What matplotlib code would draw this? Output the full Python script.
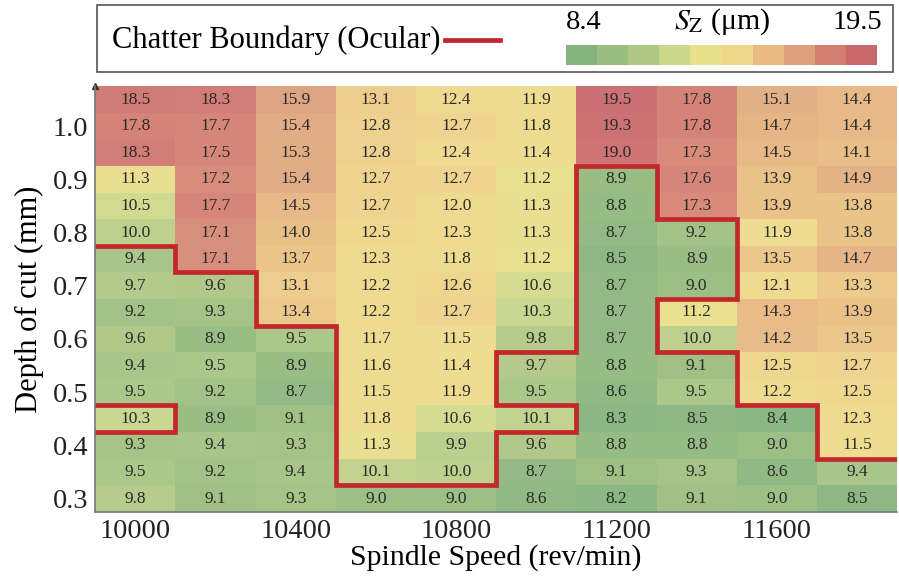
from matplotlib import pyplot as plt
from matplotlib.colors import LinearSegmentedColormap, ListedColormap, TwoSlopeNorm
from matplotlib.lines import Line2D
from matplotlib.patches import Rectangle
import numpy as np

plt.rcParams['font.family'] = ['Liberation Serif', 'DejaVu Serif']
plt.rcParams['mathtext.fontset'] = 'stix'

speeds = [10000, 10200, 10400, 10600, 10800, 11000, 11200, 11400, 11600, 11800]
depths = [0.30, 0.35, 0.40, 0.45, 0.50, 0.55, 0.60, 0.65, 0.70, 0.75, 0.80, 0.85, 0.90, 0.95, 1.00, 1.05]

# surface roughness Sz (um), rows from depth 1.05 down to 0.30
sz_rows = [
  [18.5, 18.3, 15.9, 13.1, 12.4, 11.9, 19.5, 17.8, 15.1, 14.4],
  [17.8, 17.7, 15.4, 12.8, 12.7, 11.8, 19.3, 17.8, 14.7, 14.4],
  [18.3, 17.5, 15.3, 12.8, 12.4, 11.4, 19.0, 17.3, 14.5, 14.1],
  [11.3, 17.2, 15.4, 12.7, 12.7, 11.2, 8.9, 17.6, 13.9, 14.9],
  [10.5, 17.7, 14.5, 12.7, 12.0, 11.3, 8.8, 17.3, 13.9, 13.8],
  [10.0, 17.1, 14.0, 12.5, 12.3, 11.3, 8.7, 9.2, 11.9, 13.8],
  [9.4, 17.1, 13.7, 12.3, 11.8, 11.2, 8.5, 8.9, 13.5, 14.7],
  [9.7, 9.6, 13.1, 12.2, 12.6, 10.6, 8.7, 9.0, 12.1, 13.3],
  [9.2, 9.3, 13.4, 12.2, 12.7, 10.3, 8.7, 11.2, 14.3, 13.9],
  [9.6, 8.9, 9.5, 11.7, 11.5, 9.8, 8.7, 10.0, 14.2, 13.5],
  [9.4, 9.5, 8.9, 11.6, 11.4, 9.7, 8.8, 9.1, 12.5, 12.7],
  [9.5, 9.2, 8.7, 11.5, 11.9, 9.5, 8.6, 9.5, 12.2, 12.5],
  [10.3, 8.9, 9.1, 11.8, 10.6, 10.1, 8.3, 8.5, 8.4, 12.3],
  [9.3, 9.4, 9.3, 11.3, 9.9, 9.6, 8.8, 8.8, 9.0, 11.5],
  [9.5, 9.2, 9.4, 10.1, 10.0, 8.7, 9.1, 9.3, 8.6, 9.4],
  [9.8, 9.1, 9.3, 9.0, 9.0, 8.6, 8.2, 9.1, 9.0, 8.5],
]

# chatter boundary (ocular), on cell edges
boundary_speed = [9900, 10100, 10100, 10300, 10300, 10500, 10500, 10900, 10900, 11100,
                  11100, 10900, 10900, 11100, 11100, 11300, 11300, 11500, 11500, 11300,
                  11300, 11500, 11500, 11700, 11700, 11900]
boundary_depth = [0.775, 0.775, 0.725, 0.725, 0.625, 0.625, 0.325, 0.325, 0.425, 0.425,
                  0.475, 0.475, 0.575, 0.575, 0.925, 0.925, 0.825, 0.825, 0.675, 0.675,
                  0.575, 0.575, 0.475, 0.475, 0.375, 0.375]
island_speed = [9900, 10100, 10100, 9900]
island_depth = [0.475, 0.475, 0.425, 0.425]

legend_colors = ['#84b37c', '#9abd80', '#b0c886', '#cbd78b', '#e6e18a',
                 '#f0d88a', '#e8bb82', '#dca07c', '#d47e72', '#c9686d']
sz_min, sz_max = 8.4, 19.5


def main():
  sz = np.array(sz_rows[::-1])
  cmap = LinearSegmentedColormap.from_list('sz', legend_colors)
  norm = TwoSlopeNorm(vmin=sz_min, vcenter=np.median(sz), vmax=sz_max)

  fig = plt.figure(figsize=(8.99, 5.79), dpi=100)
  ax = fig.add_axes([0.106, 0.116, 0.892, 0.735])
  ax.pcolormesh(speeds, depths, sz, cmap=cmap, norm=norm, shading='nearest', alpha=0.95)

  for i, d in enumerate(depths):
    for j, s in enumerate(speeds):
      ax.text(s, d, '%.1f' % sz[i, j], ha='center', va='center', fontsize=12.5, color='#2a2a2a')

  ax.plot(boundary_speed, boundary_depth, color='#c3272b', lw=3.4, solid_joinstyle='miter')
  ax.plot(island_speed, island_depth, color='#c3272b', lw=3.4, solid_joinstyle='miter')

  ax.set_xlim(9900, 11900)
  ax.set_ylim(0.275, 1.075)
  ax.set_xticks([10000, 10400, 10800, 11200, 11600])
  ax.set_yticks([0.3, 0.4, 0.5, 0.6, 0.7, 0.8, 0.9, 1.0])
  ax.set_yticklabels(['%.1f' % t for t in ax.get_yticks()])
  ax.tick_params(length=0, labelsize=20.5, colors='#222222', pad=5)
  for side in ['top', 'right']:
    ax.spines[side].set_visible(False)
  for side in ['left', 'bottom']:
    ax.spines[side].set_color('#777777')
    ax.spines[side].set_linewidth(1.2)
  ax.plot(0, 1, '^', color='#333333', ms=5, transform=ax.transAxes, clip_on=False)
  ax.set_xlabel('Spindle Speed (rev/min)', fontsize=21.5, labelpad=0)
  ax.set_ylabel('Depth of cut (mm)', fontsize=22, labelpad=6)

  # legend box on top
  fig.patches.append(Rectangle((0.108, 0.876), 0.885, 0.115, transform=fig.transFigure,
                               fill=False, edgecolor='#555555', lw=1.2))
  fig.text(0.125, 0.931, 'Chatter Boundary (Ocular)', fontsize=22, va='center', ha='left')
  fig.lines.append(Line2D([0.495, 0.556], [0.931, 0.931], transform=fig.transFigure,
                          color='#c3272b', lw=3.4))
  cax = fig.add_axes([0.630, 0.888, 0.345, 0.035])
  cax.imshow(np.arange(len(legend_colors))[None, :], cmap=ListedColormap(legend_colors),
             aspect='auto')
  cax.axis('off')
  fig.text(0.649, 0.962, '%.1f' % sz_min, fontsize=20.5, ha='center', va='center')
  fig.text(0.954, 0.962, '%.1f' % sz_max, fontsize=20.5, ha='center', va='center')
  fig.text(0.803, 0.962, r'$S_{\mathrm{Z}}$ (μm)', fontsize=21.5, ha='center', va='center')

  fig.savefig('out.png', dpi=100)


if __name__ == '__main__':
  main()
